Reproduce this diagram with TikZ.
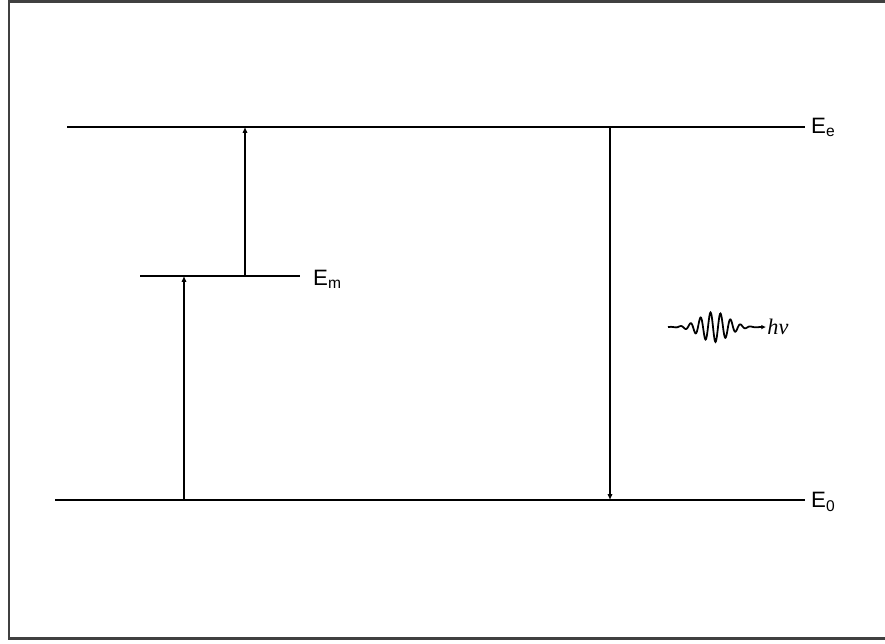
\documentclass[tikz,border=0pt]{standalone}
\usepackage{fontspec}
\setmainfont{Liberation Sans}
\newfontfamily\hnufont{Liberation Serif}
\usetikzlibrary{arrows.meta}

\tikzset{
    level/.style={line width=1pt},
    trans/.style={line width=0.9pt, -{Latex[length=5pt,width=4.5pt]}},
    lbl/.style={anchor=west, inner sep=0pt, font=\fontsize{19}{22}\selectfont}
}

\begin{document}
\begin{tikzpicture}[x=0.03cm,y=-0.03cm]
    \useasboundingbox (0,0) rectangle (885,644);
    % Draw the frame
    \draw[line width=1.8pt, black!75] (885,1.5) -- (9,1.5) -- (9,638.5) -- (885,638.5);

    % Draw the energy levels
    \draw[level] (67,127) -- (805,127);
    \draw[level] (140,276) -- (300,276);
    \draw[level] (55,500) -- (805,500);

    \node[lbl] (Ee) at (811,127) {E\textsubscript{e}};
    \node[lbl] (Em) at (313,279) {E\textsubscript{m}};
    \node[lbl] (E0) at (811,502) {E\textsubscript{0}};

    % Points on the levels
    \coordinate (a0) at (184,500);
    \coordinate (am) at (184,276);
    \coordinate (bm) at (245,276);
    \coordinate (be) at (245,127);
    \coordinate (ce) at (610,127);
    \coordinate (c0) at (610,500);

    \draw[trans] (a0) -- (am);
    \draw[trans] (bm) -- (be);
    \draw[trans] (ce) -- (c0);

    % Draw the emitted photon
    \draw[line width=1.5pt, -{Latex[length=4pt,width=4pt]}]
        plot[domain=0:88, samples=177, variable=\t]
        ({668+\t}, {327 - 15*exp(-((\t-46)/20)*((\t-46)/20))*sin(36*\t)})
        -- (766,327) coordinate (ph);
    \node[anchor=west, inner sep=1pt, font=\fontsize{19}{22}\selectfont\hnufont\itshape] (hv) at (ph) {hν};
\end{tikzpicture}
\end{document}
